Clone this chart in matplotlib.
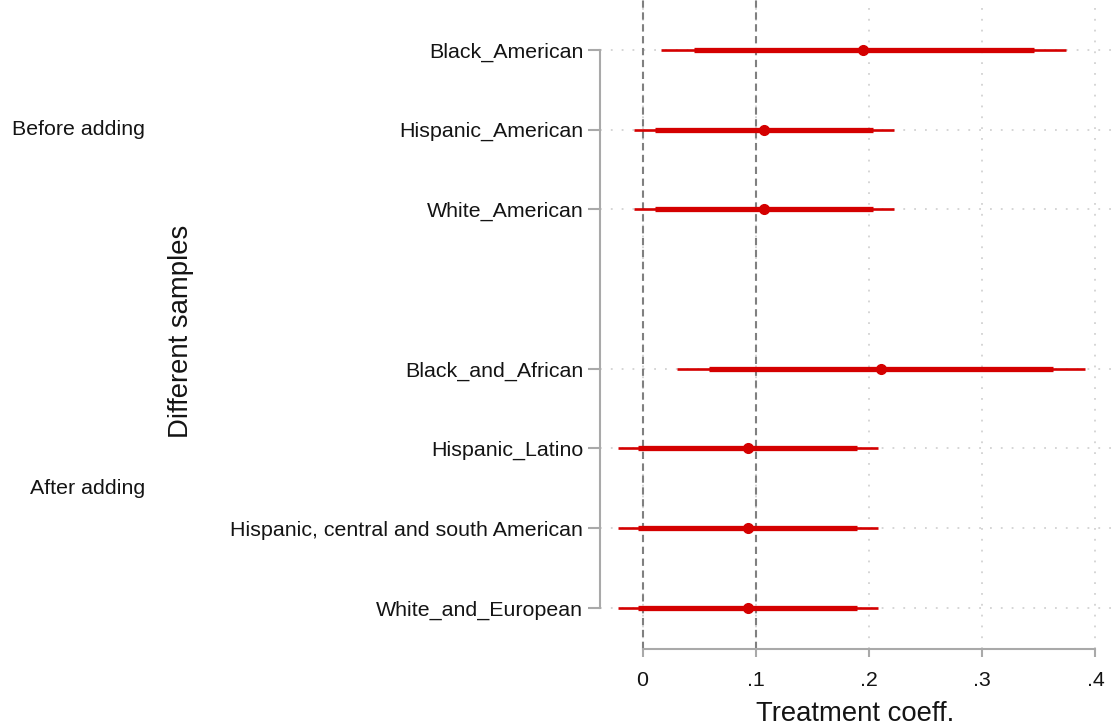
import numpy as np
from matplotlib import pyplot as plt
from matplotlib import transforms

plt.rcParams['font.family'] = ['Liberation Sans', 'DejaVu Sans']

# coefficient plot data
samples = ["Black_American", "Hispanic_American", "White_American",
           "Black_and_African", "Hispanic_Latino",
           "Hispanic, central and south American", "White_and_European"]
groups = ["Before adding"] * 3 + ["After adding"] * 4
coef = [0.195, 0.107, 0.107, 0.211, 0.093, 0.093, 0.093]
ci95_lo = [0.016, -0.008, -0.008, 0.030, -0.022, -0.022, -0.022]
ci95_hi = [0.374, 0.222, 0.222, 0.391, 0.208, 0.208, 0.208]
ci90_lo = [0.045, 0.011, 0.011, 0.059, -0.004, -0.004, -0.004]
ci90_hi = [0.346, 0.204, 0.204, 0.363, 0.189, 0.189, 0.189]
ref_lines = [0, 0.1]
xticks = [0, 0.1, 0.2, 0.3, 0.4]
xticklabels = ["0", ".1", ".2", ".3", ".4"]

RED = "#d40000"
AXCOL = "#a9a9a9"
TXT = "#141414"


def group_positions(groups, gap=1):
    pos, y = [], 0
    for i, g in enumerate(groups):
        if i > 0 and g != groups[i - 1]:
            y += gap
        pos.append(y)
        y += 1
    return np.array(pos, dtype=float)


ypos = group_positions(groups)

W, H = 1111, 728
fig = plt.figure(figsize=(W / 100, H / 100), dpi=100)
ax = fig.add_axes([600 / W, (H - 649) / H, 511 / W, 649 / H])

# grid
ax.set_xticks(xticks)
ax.set_xticklabels(xticklabels)
ax.set_yticks(ypos)
ax.set_yticklabels(samples)
ax.grid(True, color="#d2d2d2", linestyle=(0, (1, 5)), linewidth=1.3, zorder=0)
ax.set_axisbelow(True)

for r in ref_lines:
    ax.axvline(r, color="#808080", linewidth=1.5, linestyle=(0, (3.5, 2.2)), zorder=1)

ax.hlines(ypos, ci95_lo, ci95_hi, color=RED, linewidth=1.9, zorder=3)
ax.hlines(ypos, ci90_lo, ci90_hi, color=RED, linewidth=3.8, zorder=4)
ax.plot(coef, ypos, "o", color=RED, markersize=7, zorder=5)

ax.set_xlim(-0.0376, 0.4138)
ax.set_ylim(7.516, -0.627)

for s in ["top", "right"]:
    ax.spines[s].set_visible(False)
ax.spines["left"].set_bounds(ypos.min(), ypos.max())
ax.spines["bottom"].set_bounds(xticks[0], xticks[-1])
for s in ["left", "bottom"]:
    ax.spines[s].set_color(AXCOL)
    ax.spines[s].set_linewidth(1.5)

ax.tick_params(axis="y", length=9, width=1.5, color=AXCOL, pad=3,
               labelsize=15.4, labelcolor=TXT)
ax.tick_params(axis="x", length=6, width=1.5, color=AXCOL, pad=10,
               labelsize=15.4, labelcolor=TXT)

ax.set_xlabel("Treatment coeff.", fontsize=19.8, color=TXT, labelpad=8)
ax.set_ylabel("Different samples", fontsize=19.8, color=TXT)
ax.yaxis.set_label_coords((194 - 600) / 511, 0.49)

# group labels on the far left
trans = transforms.blended_transform_factory(fig.transFigure, ax.transData)
for g in dict.fromkeys(groups):
    sel = [y for y, gg in zip(ypos, groups) if gg == g]
    ax.text(145 / W, np.mean(sel), g, transform=trans, ha="right", va="center",
            fontsize=15.4, color=TXT)

fig.savefig("out.png", dpi=100)
